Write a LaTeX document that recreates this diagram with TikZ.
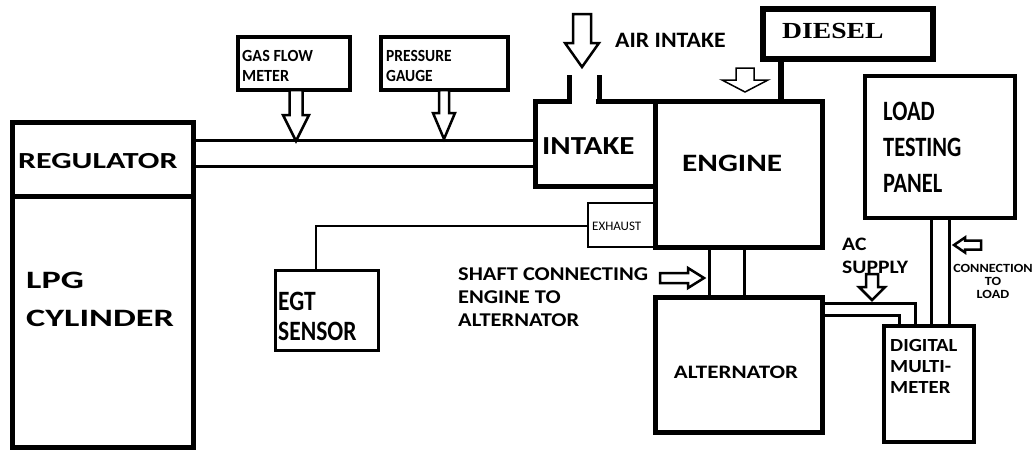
\documentclass[tikz,border=0pt]{standalone}
\usepackage{fontspec}
\usepackage{graphicx}
\newfontfamily\cb{Carlito}
\newfontfamily\tnr{Liberation Serif}
\newcommand\txl[4]{\scalebox{#3}[1]{\fontsize{#1}{#2}\selectfont\begin{tabular}[t]{@{}l@{}}#4\end{tabular}}}
\newcommand\txc[4]{\scalebox{#3}[1]{\fontsize{#1}{#2}\selectfont\begin{tabular}[t]{@{}c@{}}#4\end{tabular}}}
\newcommand\hdown[6]{\draw[harrow] (#1-#2,#4) -- (#1+#2,#4) -- (#1+#2,#5) -- (#1+#3,#5) -- (#1,#6) -- (#1-#3,#5) -- (#1-#2,#5) -- cycle;}
\newcommand\hright[6]{\draw[harrow] (#4,#1-#2) -- (#5,#1-#2) -- (#5,#1-#3) -- (#6,#1) -- (#5,#1+#3) -- (#5,#1+#2) -- (#4,#1+#2) -- cycle;}
\begin{document}
\begin{tikzpicture}[x=1pt,y=-1pt,
  box/.style={draw, line width=#1, inner sep=0, outer sep=0, anchor=north west},
  box/.default=5pt,
  txt/.style={inner sep=0, font=\cb\bfseries},
  txtr/.style={inner sep=0, font=\cb},
  wire/.style={line width=3pt},
  harrow/.style={draw, line width=2.5pt, fill=white, line join=miter}]
\useasboundingbox[fill=white] (0,0) rectangle (1035,450);

% boxes
\node[box, minimum width=181pt, minimum height=74pt] (reg) at (12,122) {};
\node[box, minimum width=181pt, minimum height=251pt] (lpg) at (12,196) {};
\node[box=4pt, minimum width=112pt, minimum height=53pt] (gas) at (238,37) {};
\node[box=4pt, minimum width=127pt, minimum height=53pt] (pres) at (381,37) {};
\node[box, minimum width=120pt, minimum height=85pt] (intake) at (535,101) {};
\node[box, minimum width=167pt, minimum height=146pt] (engine) at (655,101) {};
\node[box=2.5pt, minimum width=67pt, minimum height=44pt] (exhaust) at (588,203) {};
\node[box=5.5pt, minimum width=170pt, minimum height=50pt] (diesel) at (763,9) {};
\node[box=4pt, minimum width=150pt, minimum height=142pt] (load) at (865,76) {};
\node[box=3pt, minimum width=103pt, minimum height=80pt] (egt) at (275,270) {};
\node[box, minimum width=167pt, minimum height=135pt] (alt) at (655,297) {};
\node[box=4pt, minimum width=90pt, minimum height=116pt] (dmm) at (884,326) {};

% air inlet in intake top
\fill[white] (572,96) rectangle (596,106);
\coordinate (ail) at (569,75);
\coordinate (air) at (599,75);
\draw[line width=5pt] (ail) -- (ail |- intake.north);
\draw[line width=5pt] (air) -- (air |- intake.north);

% gas pipes
\draw[wire] (reg.east |- 0,140) -- (intake.west |- 0,140);
\draw[wire] (reg.east |- 0,166) -- (intake.west |- 0,166);

% diesel line
\draw[line width=6pt] (diesel.south -| 781,0) -- (engine.north -| 781,0);

% EGT wire
\draw[line width=2pt] (exhaust.west |- 0,226) -| (egt.north -| 316,0);

% shaft
\draw[wire] (engine.south -| 709,0) -- (alt.north -| 709,0);
\draw[wire] (engine.south -| 744,0) -- (alt.north -| 744,0);

% AC supply wires
\draw[wire] (alt.east |- 0,303) -| (dmm.north -| 915,0);
\draw[wire] (alt.east |- 0,315) -| (dmm.north -| 899,0);

% load connection
\draw[wire] (load.south -| 931,0) -- (dmm.north -| 931,0);
\draw[wire] (load.south -| 949,0) -- (dmm.north -| 949,0);

% hollow arrows
\hdown{296}{6.5}{13}{90}{115}{141}
\hdown{444}{5}{11}{90}{113}{139}
\hdown{582}{9}{17}{14}{43}{67}
\begin{scope}[harrow/.append style={line width=1.5pt}]
\hdown{745}{9}{23}{68}{80}{92}
\end{scope}
\hdown{872}{6}{13}{274}{287}{300}
\hright{278}{5}{10}{660}{688}{704}
\hright{245}{4.5}{7.5}{981}{965}{954}

% texts
\node[txt, anchor=base west] (tReg) at (18,168) {\txl{23}{28}{1.39}{REGULATOR}};
\node[txt, anchor=base west] (tLpg) at (26,288) {\txl{25}{38}{1.45}{LPG\\CYLINDER}};
\node[txt, anchor=base west] (tGas) at (242,61) {\txl{17}{20}{0.95}{GAS FLOW\\METER}};
\node[txt, anchor=base west] (tPres) at (386,61) {\txl{17}{20}{0.91}{PRESSURE\\GAUGE}};
\node[txt, anchor=base west] (tAir) at (615,47) {\txl{22}{26}{1.08}{AIR INTAKE}};
\node[inner sep=0, font=\tnr\bfseries, anchor=base west] (tDiesel) at (782,38) {\txl{23}{28}{1.2}{DIESEL}};
\node[txt, anchor=base west] (tIntake) at (542,154) {\txl{26}{30}{1.19}{INTAKE}};
\node[txt, anchor=base west] (tEngine) at (682,171) {\txl{25}{30}{1.25}{ENGINE}};
\node[txt, anchor=base west] (tLoad) at (883,120) {\txl{28}{36}{0.80}{LOAD\\TESTING\\PANEL}};
\node[txtr, anchor=base west] (tExh) at (592,230) {\txl{13}{16}{1.0}{EXHAUST}};
\node[txt, anchor=base west] (tEgt) at (278,310) {\txl{28}{30}{0.84}{EGT\\SENSOR}};
\node[txt, anchor=base west] (tShaft) at (458,280) {\txl{19.5}{23}{1.15}{SHAFT CONNECTING\\ENGINE TO\\ALTERNATOR}};
\node[txt, anchor=base] (tAlt) at (736,378) {\txl{19}{23}{1.21}{ALTERNATOR}};
\node[txt, anchor=base west] (tAc) at (842,250) {\txl{19}{23}{1.14}{AC\\SUPPLY}};
\node[txt, anchor=base west] (tDmm) at (890,351) {\txl{18.5}{21}{1.12}{DIGITAL\\MULTI-\\METER}};
\node[txt, anchor=base] (tConn) at (993,272) {\txc{12.5}{13}{1.13}{CONNECTION\\TO\\LOAD}};
\end{tikzpicture}
\end{document}
